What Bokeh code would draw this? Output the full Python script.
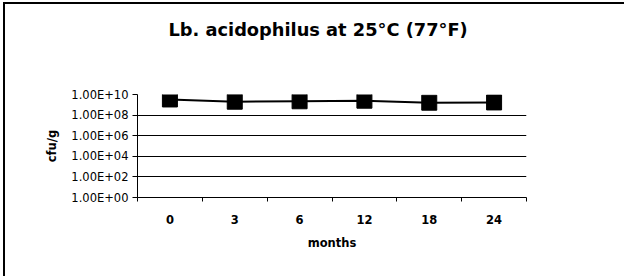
import numpy as np
from bokeh.plotting import figure
from bokeh.models import FixedTicker, Range1d, Title
from bokeh.embed import file_html
from bokeh.resources import INLINE

title_text = "Lb. acidophilus at 25°C (77°F)"
months = ["0", "3", "6", "12", "18", "24"]
cfu = [3.3e9, 2.0e9, 2.2e9, 2.5e9, 1.6e9, 1.7e9]
y_ticks = [1e0, 1e2, 1e4, 1e6, 1e8, 1e10]
y_tick_labels = ["1.00E+00", "1.00E+02", "1.00E+04", "1.00E+06", "1.00E+08", "1.00E+10"]
x_title = "months"
y_title = "cfu/g"

xs = np.arange(len(months)) + 0.5

p = figure(width=621, height=274, output_backend="svg", toolbar_location=None,
           y_axis_type="log", x_range=Range1d(0, len(months)),
           y_range=Range1d(y_ticks[0], y_ticks[-1]),
           min_border_left=132, min_border_right=100, min_border_top=90,
           min_border_bottom=81)
p.frame_width = 389
p.frame_height = 103
p.styles = {"box-shadow": "-2px -2px 0px 0px black",
            "margin-left": "5px", "margin-top": "4px"}
p.outline_line_color = None
p.background_fill_color = "white"
p.border_fill_color = "white"

# spacer between frame and title, then the title itself
p.add_layout(Title(text=" ", text_font_size="10px", standoff=42), "above")
p.add_layout(Title(text=title_text, align="left", offset=31, standoff=0,
                   vertical_align="bottom", text_font="DejaVu Sans",
                   text_font_size="17.8px", text_font_style="bold",
                   text_color="black"), "above")

# x axis
xa = p.xaxis[0]
xa.ticker = FixedTicker(ticks=list(xs), minor_ticks=list(np.arange(len(months) + 1)))
xa.major_label_overrides = {float(x): m for x, m in zip(xs, months)}
xa.major_tick_line_color = None
xa.major_tick_out = 0
xa.major_tick_in = 0
xa.minor_tick_line_color = "black"
xa.minor_tick_out = 4
xa.minor_tick_in = 0
xa.major_label_standoff = 13
xa.major_label_text_font = "DejaVu Sans"
xa.major_label_text_font_style = "bold"
xa.major_label_text_font_size = "11.5px"
xa.major_label_text_color = "black"
xa.axis_line_color = "black"
xa.axis_label = x_title
xa.axis_label_text_font = "DejaVu Sans"
xa.axis_label_text_font_style = "bold"
xa.axis_label_text_font_size = "11.5px"
xa.axis_label_text_color = "black"
xa.axis_label_standoff = 9

# y axis
ya = p.yaxis[0]
ya.ticker = FixedTicker(ticks=y_ticks, minor_ticks=[])
ya.major_label_overrides = {t: l for t, l in zip(y_ticks, y_tick_labels)}
ya.major_tick_out = 5
ya.major_tick_in = 0
ya.major_tick_line_color = "black"
ya.minor_tick_line_color = None
ya.major_label_standoff = 4
ya.major_label_text_font = "DejaVu Sans"
ya.major_label_text_font_size = "11.5px"
ya.major_label_text_color = "black"
ya.axis_line_color = "black"
ya.axis_label = y_title
ya.axis_label_text_font = "DejaVu Sans"
ya.axis_label_text_font_style = "bold"
ya.axis_label_text_font_size = "11.5px"
ya.axis_label_text_color = "black"
ya.axis_label_standoff = 9

p.xgrid.grid_line_color = None
p.ygrid.ticker = FixedTicker(ticks=y_ticks[1:-1], minor_ticks=[])
p.ygrid.grid_line_color = "black"
p.ygrid.grid_line_width = 1

p.line(xs, cfu, line_color="black", line_width=2)
p.scatter(xs, cfu, marker="square", size=15, fill_color="black", line_color="black")

open("out.html", "w").write(file_html(p, INLINE))
